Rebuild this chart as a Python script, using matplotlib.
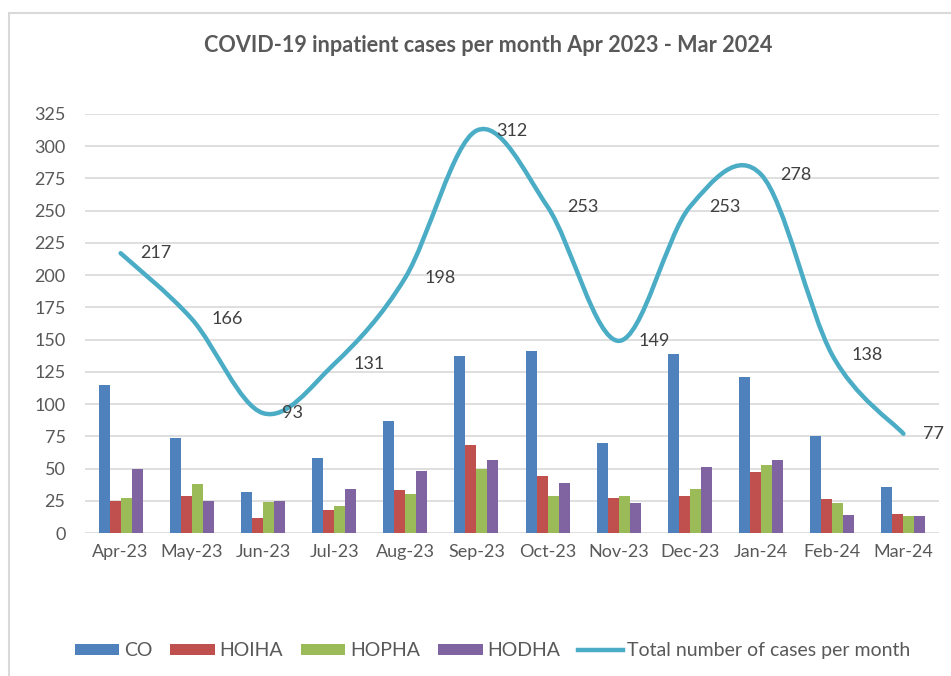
import matplotlib

matplotlib.use("Agg")
import matplotlib.pyplot as plt
import numpy as np
from matplotlib.lines import Line2D
from matplotlib.patches import PathPatch, Rectangle
from matplotlib.path import Path

plt.rcParams["font.family"] = ["Lato", "DejaVu Sans"]

# 数据
months = ["Apr-23", "May-23", "Jun-23", "Jul-23", "Aug-23", "Sep-23",
          "Oct-23", "Nov-23", "Dec-23", "Jan-24", "Feb-24", "Mar-24"]
co = [115, 74, 32, 58, 87, 137, 141, 70, 139, 121, 75, 36]
hoiha = [25, 29, 12, 18, 33, 68, 44, 27, 29, 47, 26, 15]
hopha = [27, 38, 24, 21, 30, 50, 29, 29, 34, 53, 23, 13]
hodha = [50, 25, 25, 34, 48, 57, 39, 23, 51, 57, 14, 13]
total = [217, 166, 93, 131, 198, 312, 253, 149, 253, 278, 138, 77]

series = [("CO", co, "#4F81BD"), ("HOIHA", hoiha, "#C0504D"),
          ("HOPHA", hopha, "#9BBB59"), ("HODHA", hodha, "#8064A2")]
line_color = "#4BACC6"
text_grey = "#595959"


def smooth_path(xs, ys):
    """Excel 风格平滑线：Catmull-Rom 转三次贝塞尔。"""
    pts = np.column_stack([xs, ys]).astype(float)
    ext = np.vstack([pts[0], pts, pts[-1]])
    verts = [tuple(pts[0])]
    codes = [Path.MOVETO]
    for i in range(len(pts) - 1):
        p0, p1, p2, p3 = ext[i], ext[i + 1], ext[i + 2], ext[i + 3]
        c1 = p1 + (p2 - p0) / 6
        c2 = p2 - (p3 - p1) / 6
        verts += [tuple(c1), tuple(c2), tuple(p2)]
        codes += [Path.CURVE4] * 3
    return Path(verts, codes)


fig = plt.figure(figsize=(9.51, 6.76), dpi=100)
ax = fig.add_axes([0.0894, 0.2115, 0.898, 0.62])

x = np.arange(len(months))
bw = 0.155
for k, (name, vals, color) in enumerate(series):
    ax.bar(x + (k - 1.5) * bw, vals, width=bw, color=color, label=name, zorder=2)

ax.add_patch(PathPatch(smooth_path(x, total), facecolor="none",
                       edgecolor=line_color, lw=3.2, capstyle="round", zorder=3))

for xi, v in zip(x, total):
    ax.annotate(str(v), (xi, v), xytext=(14, 0), textcoords="offset points",
                ha="left", va="center", fontsize=13, color="#404040", zorder=4)

ax.set_xlim(-0.5, len(months) - 0.5)
ax.set_ylim(0, 325)
ax.set_yticks(np.arange(0, 326, 25))
ax.set_xticks(x)
ax.set_xticklabels(months)
ax.grid(axis="y", color="#D9D9D9", lw=1.2, zorder=0)
ax.set_axisbelow(True)
for s in ax.spines.values():
    s.set_visible(False)
ax.tick_params(axis="both", length=0, labelsize=13, labelcolor=text_grey)
ax.tick_params(axis="y", pad=14)
ax.tick_params(axis="x", pad=8)

fig.text(0.513, 0.933, "COVID-19 inpatient cases per month Apr 2023 - Mar 2024",
         ha="center", va="center", fontsize=15.6, fontweight="bold", color=text_grey)

handles, labels = ax.get_legend_handles_labels()
handles.append(Line2D([], [], color=line_color, lw=3.2))
labels.append("Total number of cases per month")
fig.legend(handles, labels, loc="center", bbox_to_anchor=(0.518, 0.037), ncol=5,
           frameon=False, fontsize=14, labelcolor=text_grey, handlelength=2.3,
           handleheight=0.5, handletextpad=0.25, columnspacing=0.9)

# 外框
fig.add_artist(Rectangle((9 / 951, -0.1), 1.2, 1.1 - 13 / 676, transform=fig.transFigure,
                         facecolor="none", edgecolor="#D9D9D9", lw=1.5))

plt.savefig("out.png", dpi=100)
